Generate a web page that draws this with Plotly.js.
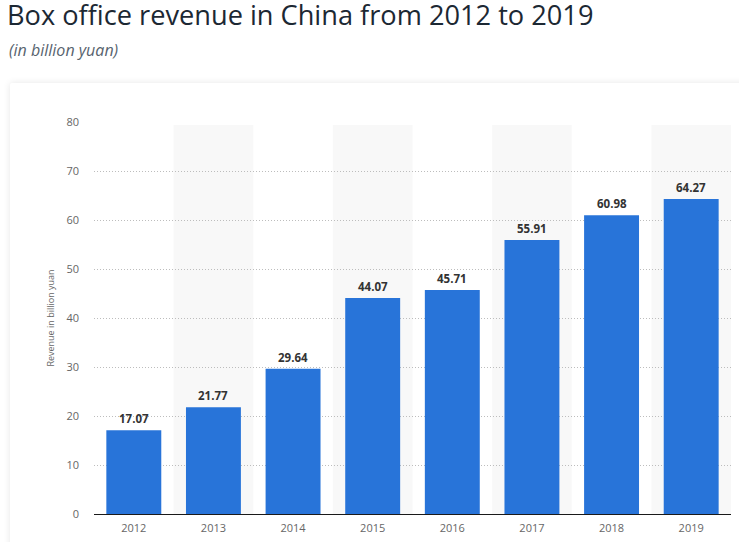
<!DOCTYPE html>
<html>
<head>
<meta charset="utf-8">
<script src="https://cdn.plot.ly/plotly-3.0.1.min.js"></script>
<style>
  html, body { margin: 0; padding: 0; background: #ffffff; }
  #wrap { position: relative; width: 739px; height: 542px; overflow: hidden; background: #ffffff; }
  #card { position: absolute; left: 10px; top: 83px; width: 760px; height: 500px; background: #ffffff;
          box-shadow: 0 0 7px rgba(0,0,0,0.10); border-radius: 2px; }
  #chart { position: absolute; left: 0; top: 0; width: 739px; height: 542px; }
</style>
</head>
<body>
<div id="wrap">
  <div id="card"></div>
  <div id="chart"></div>
</div>
<script>
const years = ["2012", "2013", "2014", "2015", "2016", "2017", "2018", "2019"];
const revenue = [17.07, 21.77, 29.64, 44.07, 45.71, 55.91, 60.98, 64.27];
const valueLabels = ["17.07", "21.77", "29.64", "44.07", "45.71", "55.91", "60.98", "64.27"];
const yTicks = [0, 10, 20, 30, 40, 50, 60, 70, 80];

const n = years.length;
const bands = [];
years.forEach((y, i) => {
  if (i % 2 === 1) {
    bands.push({
      type: 'rect', layer: 'below', xref: 'paper', yref: 'y',
      x0: i / n, x1: (i + 1) / n, y0: 0, y1: 79.4,
      fillcolor: '#f8f8f8', line: { width: 0 }
    });
  }
});

const labelAnns = years.map((y, i) => ({
  x: i, y: revenue[i], xref: 'x', yref: 'y',
  text: valueLabels[i], showarrow: false, yanchor: 'bottom', yshift: 2,
  font: { family: 'Open Sans, sans-serif', size: 11.5, color: '#333333', weight: 700 }
}));

const anns = labelAnns.concat([{
  xref: 'paper', yref: 'paper', x: -87 / 637, y: (514 - 50) / 392,
  xanchor: 'left', yanchor: 'middle', showarrow: false,
  text: '<i>(in billion yuan)</i>',
  font: { family: 'Open Sans, sans-serif', size: 16, color: '#57636e' }
}]);

const trace = {
  type: 'bar', x: years, y: revenue,
  marker: { color: '#2874d9' },
  hoverinfo: 'x+y'
};

const layout = {
  width: 739, height: 542,
  margin: { l: 94, r: 8, t: 122, b: 28, pad: 0 },
  paper_bgcolor: 'rgba(0,0,0,0)',
  plot_bgcolor: 'rgba(0,0,0,0)',
  bargap: 0.31,
  showlegend: false,
  title: {
    text: 'Box office revenue in China from 2012 to 2019',
    x: 7 / 739, xanchor: 'left', xref: 'container',
    y: 1 - 15.5 / 542, yanchor: 'middle', yref: 'container',
    font: { family: 'Open Sans, sans-serif', size: 27.2, color: '#1c2833' }
  },
  xaxis: {
    type: 'category', categoryorder: 'array', categoryarray: years,
    range: [-0.5, n - 0.5],
    showgrid: false, showline: true, linecolor: '#1a1a1a', linewidth: 1,
    ticks: '', tickfont: { family: 'Open Sans, sans-serif', size: 11, color: '#666666' },
    ticklabelstandoff: 4, zeroline: false, fixedrange: true
  },
  yaxis: {
    range: [0, 80], tickvals: yTicks, ticktext: yTicks.map(String),
    showgrid: true, gridcolor: '#bdbdbd', griddash: '1px,2px', gridwidth: 1,
    zeroline: false, showline: false, ticks: '',
    tickfont: { family: 'Open Sans, sans-serif', size: 11, color: '#666666' },
    ticklabelstandoff: 14,
    title: { text: 'Revenue in billion yuan', standoff: 10,
             font: { family: 'Open Sans, sans-serif', size: 9, color: '#666666' } },
    fixedrange: true
  },
  shapes: bands,
  annotations: anns
};

Plotly.newPlot('chart', [trace], layout, { displayModeBar: false, staticPlot: true });
</script>
</body>
</html>
